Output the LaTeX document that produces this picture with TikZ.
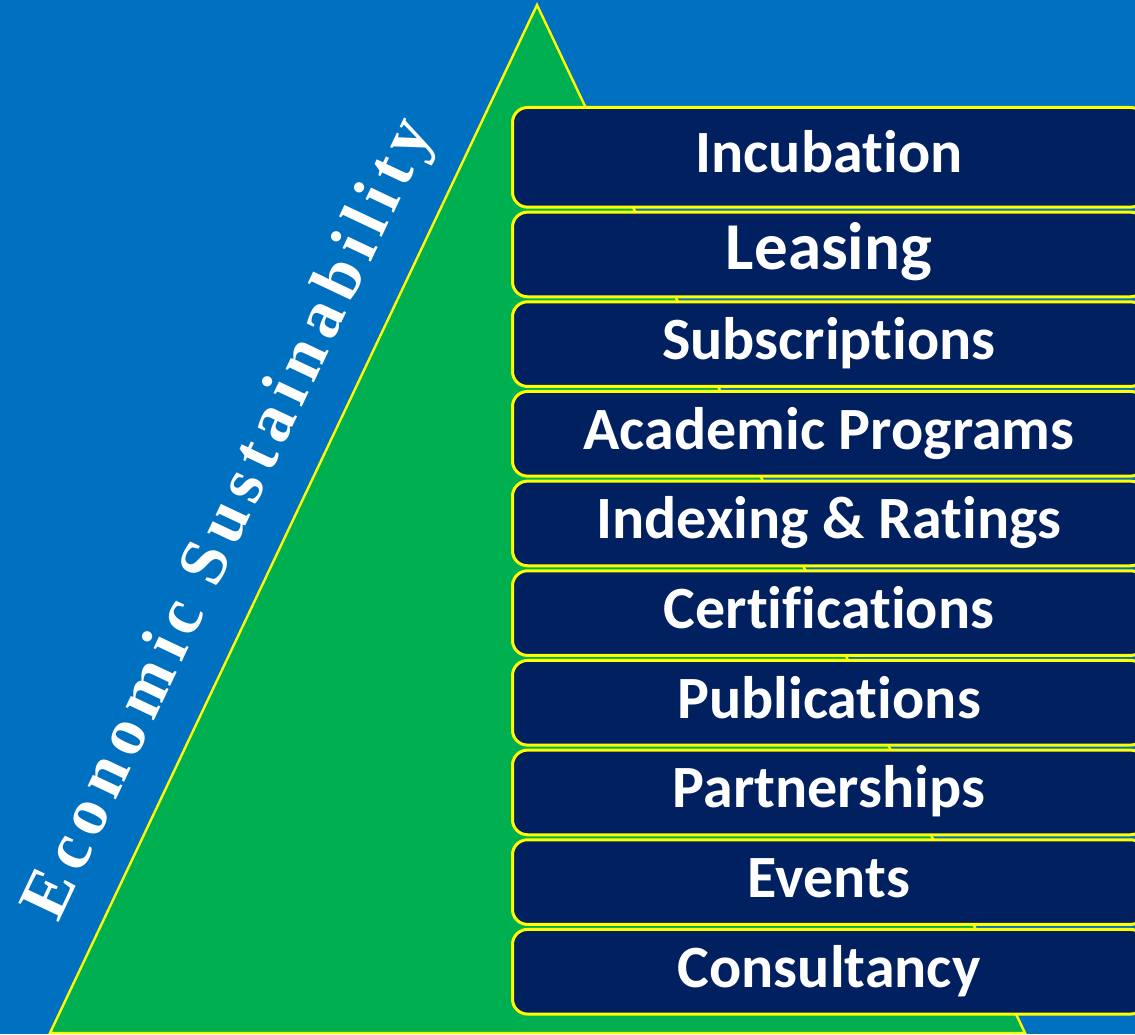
\documentclass[tikz,border=0pt]{standalone}
\usepackage{fontspec}
\setmainfont{Carlito}[Ligatures=NoCommon]
\newfontfamily\titlefont{Liberation Serif}[LetterSpace=12]
\usetikzlibrary{positioning}
\definecolor{bgblue}{HTML}{0070C0}
\definecolor{trigreen}{HTML}{00B050}
\definecolor{navy}{HTML}{002060}
\definecolor{ylw}{HTML}{FFFF00}
\begin{document}
\begin{tikzpicture}[x=0.5pt,y=-0.5pt,
    box/.style={draw=ylw, line width=1.5pt, fill=navy, rounded corners=7.5pt,
        minimum width=316.5pt, minimum height=42.33pt, inner sep=0pt,
        text=white, text height=15.5pt, text depth=0pt,
        font=\fontsize{30}{30}\selectfont\bfseries},
    tri/.style={draw=ylw, line width=1.2pt, fill=trigreen},
    title/.style={text=white, inner sep=0pt, font=\titlefont\bfseries\fontsize{34}{34}\selectfont}]

    \useasboundingbox (0,0) rectangle (1135,1034);
    \clip (0,0) rectangle (1135,1034);
    \fill[bgblue] (0,0) rectangle (1135,1034);

    \coordinate (apex) at (537,5);
    \coordinate (baseL) at (50,1033);
    \coordinate (baseR) at (1025,1033);
    \draw[tri] (baseL) -- (apex) -- (baseR) -- cycle;

    \node[title, rotate=64.7, anchor=base] (title) at (245.6,527.1) {Economic Sustainability};

    \node[box, minimum height=49.83pt] (b1) at (829,157.3) {Incubation};
    \foreach \t [count=\i from 2] in {{\fontsize{33.5}{33.5}\selectfont Leasing}, Subscriptions,
        Academic Programs, Indexing \& Ratings, Certifications, Publications,
        Partnerships, Events, Consultancy} {
        \pgfmathtruncatemacro\j{\i-1}
        \node[box, below=1pt of b\j] (b\i) {\t};
    }

\end{tikzpicture}
\end{document}
